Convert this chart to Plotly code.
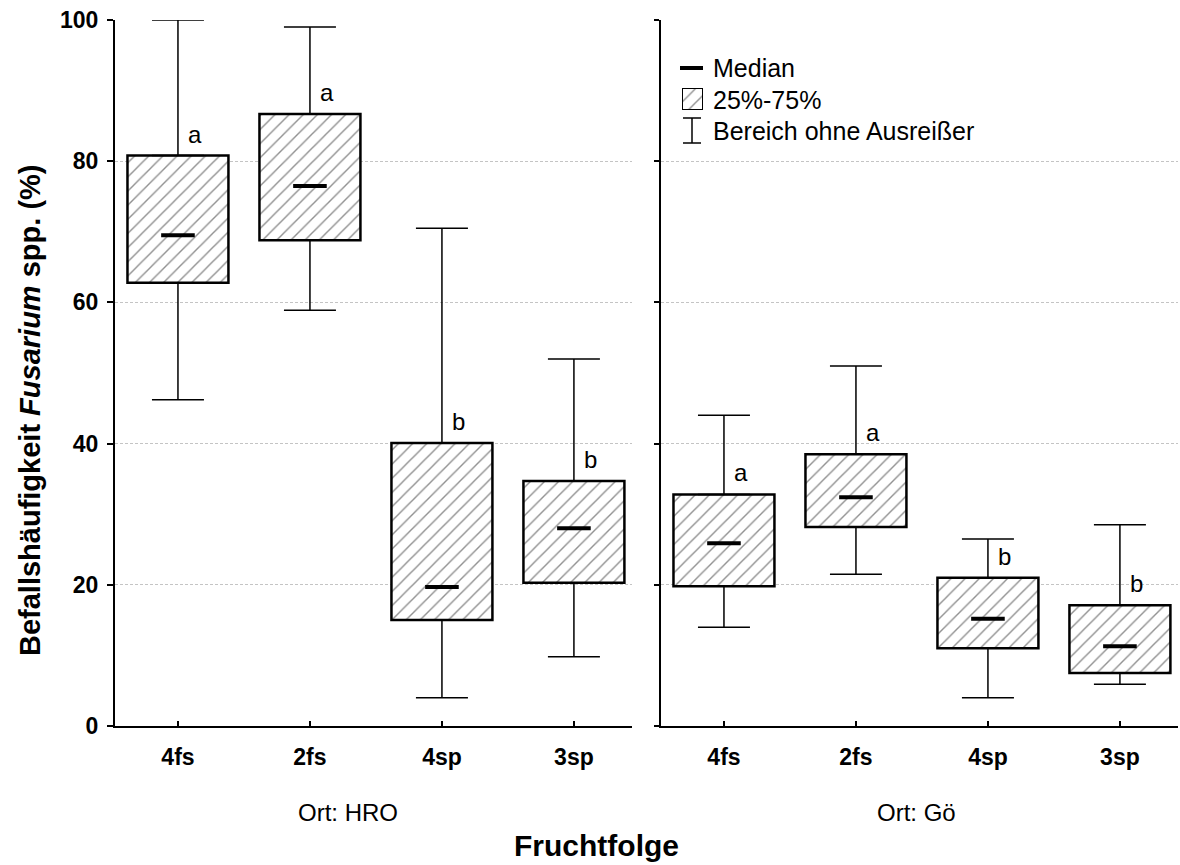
import plotly.graph_objects as go

# ---------------- data ----------------
categories = ["4fs", "2fs", "4sp", "3sp"]

hro_lower = [46.2, 58.9, 4.0, 9.8]
hro_q1 = [62.8, 68.8, 15.0, 20.3]
hro_median = [69.5, 76.5, 19.7, 28.0]
hro_q3 = [80.8, 86.7, 40.1, 34.7]
hro_upper = [100.0, 99.0, 70.5, 52.0]
hro_letters = ["a", "a", "b", "b"]

goe_lower = [14.0, 21.5, 4.0, 5.9]
goe_q1 = [19.8, 28.2, 11.0, 7.5]
goe_median = [25.9, 32.4, 15.2, 11.3]
goe_q3 = [32.8, 38.5, 21.0, 17.1]
goe_upper = [44.0, 51.0, 26.5, 28.5]
goe_letters = ["a", "a", "b", "b"]

panel_labels = ["Ort: HRO", "Ort: Gö"]
legend_labels = ["Median", "25%-75%", "Bereich ohne Ausreißer"]
y_ticks = [0, 20, 40, 60, 80, 100]

# ---------------- geometry helpers ----------------
W, H = 1180, 865
ML, MR, MT, MB = 115, 2, 20, 139
PW, PH = W - ML - MR, H - MT - MB


def px(xp):
    return (xp - ML) / PW


def py(yp):
    return (H - MB - yp) / PH


FONT = "Liberation Sans, Arial, sans-serif"
BOX_W = 0.765
HATCH = dict(shape="/", fgcolor="#222222", bgcolor="white", size=10, solidity=0.14)

fig = go.Figure()

panels = [
    ("x", "y", hro_lower, hro_q1, hro_median, hro_q3, hro_upper, hro_letters),
    ("x2", "y2", goe_lower, goe_q1, goe_median, goe_q3, goe_upper, goe_letters),
]

annotations = []
for xa, ya, lo, q1, med, q3, up, letters in panels:
    # boxes (25%-75%)
    fig.add_trace(go.Bar(
        x=categories, y=[b - a for a, b in zip(q1, q3)], base=q1,
        width=BOX_W, xaxis=xa, yaxis=ya, showlegend=False,
        marker=dict(color="white", line=dict(color="black", width=2.5), pattern=HATCH),
        hoverinfo="skip",
    ))
    # upper whiskers
    fig.add_trace(go.Scatter(
        x=categories, y=q3, mode="markers", xaxis=xa, yaxis=ya, showlegend=False,
        marker=dict(size=1, color="rgba(0,0,0,0)"),
        error_y=dict(type="data", symmetric=False,
                     array=[u - q for u, q in zip(up, q3)],
                     arrayminus=[0] * len(q3),
                     width=26, thickness=1.5, color="black"),
        hoverinfo="skip",
    ))
    # lower whiskers
    fig.add_trace(go.Scatter(
        x=categories, y=q1, mode="markers", xaxis=xa, yaxis=ya, showlegend=False,
        marker=dict(size=1, color="rgba(0,0,0,0)"),
        error_y=dict(type="data", symmetric=False,
                     array=[0] * len(q1),
                     arrayminus=[q - l for q, l in zip(q1, lo)],
                     width=26, thickness=1.5, color="black"),
        hoverinfo="skip",
    ))
    # medians
    fig.add_trace(go.Scatter(
        x=categories, y=med, mode="markers", xaxis=xa, yaxis=ya, showlegend=False,
        marker=dict(symbol="line-ew", size=24, line=dict(color="black", width=4)),
        hoverinfo="skip",
    ))
    # significance letters
    for c, v, t in zip(categories, q3, letters):
        annotations.append(dict(
            x=c, y=v, xref=xa, yref=ya, text=t, showarrow=False,
            xanchor="left", yanchor="bottom", xshift=8, yshift=6,
            font=dict(family=FONT, size=24, color="black"),
        ))

# legend hatched box (mini axes)
fig.add_trace(go.Bar(
    x=[0], y=[1], base=[0], width=[1], xaxis="x3", yaxis="y3", showlegend=False,
    marker=dict(color="white", line=dict(color="black", width=2), pattern=HATCH),
    hoverinfo="skip",
))

axis_common = dict(showline=True, linecolor="black", linewidth=2, mirror=False,
                   zeroline=False)

fig.update_layout(
    width=W, height=H,
    margin=dict(l=ML, r=MR, t=MT, b=MB),
    plot_bgcolor="white", paper_bgcolor="white",
    showlegend=False, barmode="overlay",
    font=dict(family=FONT, color="black"),
    xaxis=dict(domain=[0, px(632)], range=[-0.477, 3.44], anchor="y",
               type="category", categoryorder="array", categoryarray=categories,
               ticks="inside", ticklen=5, tickwidth=1.5, tickcolor="black",
               ticklabelstandoff=9, showgrid=False,
               tickfont=dict(family=FONT, size=23, color="black", weight="bold"),
               **axis_common),
    xaxis2=dict(domain=[px(661), 1.0], range=[-0.477, 3.44], anchor="y2",
                type="category", categoryorder="array", categoryarray=categories,
                ticks="inside", ticklen=5, tickwidth=1.5, tickcolor="black",
                ticklabelstandoff=9, showgrid=False,
                tickfont=dict(family=FONT, size=23, color="black", weight="bold"),
                **axis_common),
    yaxis=dict(range=[0, 100], anchor="x", tickvals=y_ticks,
               ticks="outside", ticklen=6, tickwidth=1.5, tickcolor="black",
               ticklabelstandoff=4,
               showgrid=True, gridcolor="#c4c4c4", gridwidth=1, griddash="3px,2px",
               tickfont=dict(family=FONT, size=23, color="black", weight="bold"),
               **axis_common),
    yaxis2=dict(range=[0, 100], anchor="x2", tickvals=y_ticks, showticklabels=False,
                ticks="outside", ticklen=5, tickwidth=1.5, tickcolor="black",
                showgrid=True, gridcolor="#c4c4c4", gridwidth=1, griddash="3px,2px",
                **axis_common),
    xaxis3=dict(domain=[px(682), px(703)], range=[-0.5, 0.5], anchor="y3",
                visible=False, fixedrange=True),
    yaxis3=dict(domain=[py(110), py(88)], range=[0, 1], anchor="x3",
                visible=False, fixedrange=True),
)

# panel labels, axis titles
annotations += [
    dict(x=px(348), y=py(812), xref="paper", yref="paper", text=panel_labels[0],
         showarrow=False, xanchor="center", yanchor="middle",
         font=dict(family=FONT, size=24, color="black")),
    dict(x=px(916), y=py(812), xref="paper", yref="paper", text=panel_labels[1],
         showarrow=False, xanchor="center", yanchor="middle",
         font=dict(family=FONT, size=24, color="black")),
    dict(x=px(596), y=py(845), xref="paper", yref="paper", text="<b>Fruchtfolge</b>",
         showarrow=False, xanchor="center", yanchor="middle",
         font=dict(family=FONT, size=30, color="black")),
    dict(x=px(30), y=py(410), xref="paper", yref="paper",
         text="<b>Befallshäufigkeit <i>Fusarium</i> spp. (%)</b>",
         showarrow=False, xanchor="center", yanchor="middle", textangle=-90,
         font=dict(family=FONT, size=29, color="black")),
]

# legend texts
for lbl, yc in zip(legend_labels, [68, 100, 131]):
    annotations.append(dict(
        x=px(711), y=py(yc), xref="paper", yref="paper", text=lbl,
        showarrow=False, xanchor="left", yanchor="middle",
        font=dict(family=FONT, size=25, color="black")))

fig.update_layout(annotations=annotations)

# legend symbols: median line and whisker I-beam
shapes = [
    dict(type="line", xref="paper", yref="paper", x0=px(680), x1=px(703),
         y0=py(68), y1=py(68), line=dict(color="black", width=4)),
    dict(type="line", xref="paper", yref="paper", x0=px(692), x1=px(692),
         y0=py(118), y1=py(143), line=dict(color="black", width=1.5)),
    dict(type="line", xref="paper", yref="paper", x0=px(683), x1=px(701),
         y0=py(118), y1=py(118), line=dict(color="black", width=1.5)),
    dict(type="line", xref="paper", yref="paper", x0=px(683), x1=px(701),
         y0=py(143), y1=py(143), line=dict(color="black", width=1.5)),
]
fig.update_layout(shapes=shapes)

fig.write_html("out.html")
